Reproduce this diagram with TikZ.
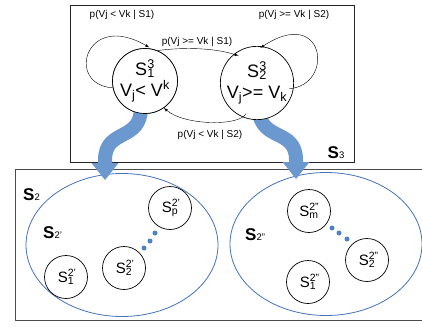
\documentclass[tikz,border=0pt]{standalone}
\usepackage{fontspec}
\setmainfont{Liberation Sans}
\usepackage{tikz}
\usetikzlibrary{positioning}
\usetikzlibrary{shapes.geometric}
\usetikzlibrary{arrows.meta}
\definecolor{bandblue}{RGB}{108,152,208}
\definecolor{ellblue}{RGB}{68,114,186}
\definecolor{dotblue}{RGB}{79,129,199}
\newcommand{\stsb}[3]{#1\makebox[0pt][l]{\textsuperscript{#2}}\textsubscript{#3}}
\tikzset{>=latex}

\begin{document}
\begin{tikzpicture}[x=1pt,y=-1pt,
  state/.style={circle,draw,fill=white,line width=0.7pt,minimum size=65pt,inner sep=0pt,align=center,font=\fontsize{18}{21}\selectfont},
  sub/.style={circle,draw,fill=white,line width=0.7pt,minimum size=43pt,inner sep=0pt,font=\fontsize{15}{18}\selectfont},
  set/.style={ellipse,draw=ellblue,line width=0.8pt,minimum width=192pt,minimum height=143pt,inner sep=0pt},
  prob/.style={font=\fontsize{10}{11}\selectfont,inner sep=1pt},
  band/.style={line width=14pt,bandblue,-{Triangle[width=27pt,length=17pt,line width=0pt]}},
  dot/.style={circle,fill=dotblue,inner sep=0pt,minimum size=5pt},
  setname/.style={anchor=base west,inner sep=0pt,font=\fontsize{17}{20}\selectfont}]

\clip (0,0) rectangle (422,326);

% Boxes
\draw[black!85,line width=0.9pt] (70,5) rectangle (354,162);
\draw[black!70,line width=1pt] (15,169.5) rectangle (426,320);
\node[setname] (n3) at (327.5,158) {\textbf{S}{\fontsize{9.5}{10}\selectfont 3}};
\node[setname] (n2) at (23,200) {\textbf{S}{\fontsize{9.5}{10}\selectfont 2}};

% Sets
\node[set] (ea) at (122,245) {};
\node[set] (eb) at (326,244) {};
\node[setname] (na) at (43,238) {\textbf{S}{\fontsize{9.5}{10}\selectfont 2'}};
\node[setname] (nb) at (245,240) {\textbf{S}{\fontsize{9.5}{10}\selectfont 2''}};

% Blue arrows
\coordinate (tipa) at (105,180);
\coordinate (tipb) at (296,179);
\node[state] (s13) at (145,81) {};
\node[state] (s23) at (257,83) {};
\draw[band] ([yshift=6pt]s13.263) .. controls (141,142) and (105,128) .. (105,160) -- (tipa);
\draw[band] ([yshift=6pt]s23.273) .. controls (261,142) and (296,128) .. (296,160) -- (tipb);

% States
\node[state] at (s13) {\stsb{S}{3}{1}\\V\textsubscript{j}< V\textsuperscript{k}};
\node[state] at (s23) {\stsb{S}{3}{2}\\V\textsubscript{j}>= V\textsubscript{k}};

% Transitions
\draw[->,shorten >=3pt] (s13.192) .. controls (65,85) and (85,10) .. (s13.78);
\draw[->,shorten >=4pt] (s23.350) .. controls (335,85) and (325,5) .. (s23.90);
\draw[->] (s13.68) .. controls (185,47) and (215,48) .. (s23.124);
\draw[->] (s23.250) .. controls (240,126) and (185,126) .. (s13.-55);

% Labels
\node[prob] (l1) at (122,15) {p(Vj < Vk | S1)};
\node[prob] (l2) at (294,15) {p(Vj >= Vk | S2)};
\node[prob] (l3) at (197,42) {p(Vj >= Vk | S1)};
\node[prob] (l4) at (210,135) {p(Vj < Vk | S2)};

% Substates
\node[sub] (a1) at (66,277) {\stsb{S}{2'}{1}};
\node[sub] (a2) at (124,268) {\stsb{S}{2'}{2}};
\node[sub] (ap) at (170,208) {\stsb{S}{2'}{p}};
\node[sub] (bm) at (309,211) {\stsb{S}{2''}{m}};
\node[sub] (b2) at (367,260) {\stsb{S}{2''}{2}};
\node[sub] (b1) at (308,282) {\stsb{S}{2''}{1}};
\foreach \p in {(144,248),(150,241),(155,233),(332,228),(339,233),(347,239)}
  \node[dot] at \p {};

\end{tikzpicture}
\end{document}
